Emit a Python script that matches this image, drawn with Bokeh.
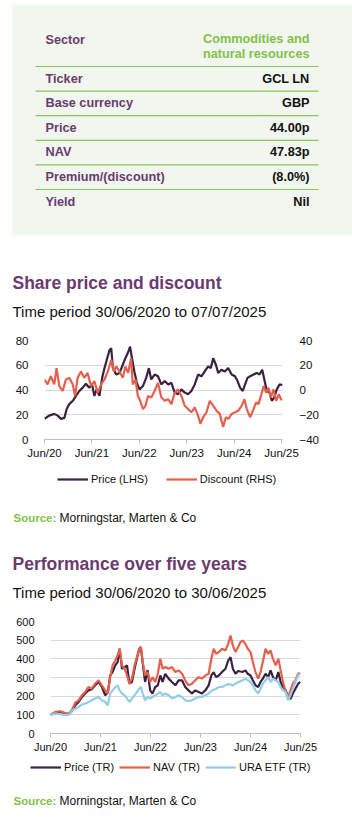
import pandas as pd
from bokeh.plotting import figure
from bokeh.models import (Range1d, LinearAxis, FixedTicker, DatetimeTickFormatter,
                          Legend, LegendItem)
from bokeh.core.properties import value
from bokeh.embed import file_html
from bokeh.resources import INLINE

# ---------------- data ----------------
table_labels = ["Sector", "Ticker", "Base currency", "Price", "NAV", "Premium/(discount)", "Yield"]
sector_value = ["Commodities and", "natural resources"]
table_values = ["GCL LN", "GBP", "44.00p", "47.83p", "(8.0%)", "Nil"]

c1_title = "Share price and discount"
c1_period = "Time period 30/06/2020 to 07/07/2025"
c2_title = "Performance over five years"
c2_period = "Time period 30/06/2020 to 30/06/2025"
source_label = "Source:"
source_text = "Morningstar, Marten & Co"
c1_series = ["Price (LHS)", "Discount (RHS)"]
c2_series = ["Price (TR)", "NAV (TR)", "URA ETF (TR)"]

year_ticks = ["2020-06-30", "2021-06-30", "2022-06-30", "2023-06-30", "2024-06-30", "2025-06-30"]
c1_left_ticks = [0, 20, 40, 60, 80]
c1_right_ticks = [-40, -20, 0, 20, 40]
c2_ticks = [0, 100, 200, 300, 400, 500, 600]

price_dates = ["2020-06-30","2020-08-05","2020-09-13","2020-10-09","2020-11-04","2020-11-30","2020-12-18","2021-01-07","2021-02-03","2021-02-28",
               "2021-03-25","2021-04-20","2021-05-15","2021-06-10","2021-07-01","2021-07-19","2021-08-06","2021-08-27","2021-09-17","2021-10-05",
               "2021-10-26","2021-11-13","2021-11-26","2021-12-09","2022-01-03","2022-01-29","2022-02-23","2022-03-15","2022-04-02","2022-04-20",
               "2022-05-05","2022-05-23","2022-06-11","2022-07-02","2022-07-28","2022-08-22","2022-09-12","2022-09-30","2022-10-26","2022-11-21",
               "2022-12-17","2023-01-12","2023-02-07","2023-03-04","2023-03-30","2023-04-24","2023-05-20","2023-06-15","2023-07-11","2023-08-05",
               "2023-08-31","2023-09-26","2023-10-22","2023-11-16","2023-12-12","2024-01-02","2024-01-20","2024-02-10","2024-02-28","2024-03-24",
               "2024-04-19","2024-05-15","2024-06-10","2024-07-06","2024-07-26","2024-08-14","2024-09-04","2024-09-22","2024-10-10","2024-10-31",
               "2024-11-26","2024-12-21","2025-01-11","2025-02-01","2025-02-17","2025-03-08","2025-03-29","2025-04-16","2025-05-04","2025-05-24",
               "2025-06-14","2025-07-07"]
share_price = [16.7,19.3,20.7,19.3,16.7,17.5,24.6,28.6,31.3,35.2,
               39.2,41.9,45.0,41.9,44.5,35.2,40.5,35.2,49.8,57.7,
               65.7,72.3,73.6,57.7,52.5,53.8,60.4,65.7,69.7,75.0,
               65.7,55.0,45.8,40.5,43.2,49.8,57.7,48.5,52.5,51.1,
               44.5,47.2,44.5,45.8,37.9,36.6,40.5,37.9,36.6,39.2,
               44.5,52.5,51.1,55.0,59.0,57.7,65.7,60.4,53.8,56.4,
               55.0,57.7,52.5,51.1,47.2,41.9,39.2,44.5,49.8,51.1,
               52.5,53.8,52.5,56.4,48.5,39.2,37.9,31.3,33.9,40.5,
               44.5,44.0]

disc_dates = ["2020-06-30","2020-07-23","2020-08-18","2020-09-13","2020-10-01","2020-10-22","2020-11-17","2020-12-12","2021-01-07","2021-02-03",
              "2021-02-20","2021-03-12","2021-04-07","2021-05-02","2021-05-28","2021-06-23","2021-07-19","2021-08-14","2021-09-09","2021-10-05",
              "2021-10-31","2021-11-26","2021-12-16","2022-01-03","2022-01-29","2022-02-23","2022-03-15","2022-04-05","2022-04-28","2022-05-11",
              "2022-06-01","2022-06-19","2022-07-07","2022-07-28","2022-08-17","2022-09-05","2022-09-30","2022-10-26","2022-11-21","2022-12-17",
              "2023-01-12","2023-02-07","2023-03-04","2023-03-30","2023-04-24","2023-05-20","2023-06-15","2023-07-11","2023-08-05","2023-08-31",
              "2023-09-26","2023-10-14","2023-11-04","2023-11-30","2023-12-25","2024-01-20","2024-02-15","2024-03-11","2024-04-06","2024-04-27",
              "2024-05-17","2024-06-10","2024-07-06","2024-08-01","2024-08-27","2024-09-17","2024-10-05","2024-10-31","2024-11-26","2024-12-16",
              "2025-01-03","2025-01-22","2025-02-12","2025-03-03","2025-03-21","2025-04-08","2025-04-29","2025-05-19","2025-06-09","2025-06-25",
              "2025-07-07"]
discount = [8.5,4.5,11.1,4.5,17.7,3.2,-0.8,8.5,9.8,4.5,
            -4.8,9.8,15.0,9.8,13.8,3.2,7.2,-2.1,4.5,8.5,
            15.0,24.4,15.0,19.0,15.0,9.8,19.0,13.8,25.7,4.5,
            8.5,-4.8,-8.7,-15.4,-12.7,-4.8,-6.1,-0.8,5.8,-6.1,
            -8.7,-7.4,-11.4,-2.1,0.5,-4.8,-12.7,-15.4,-18.0,-14.0,
            -20.7,-27.3,-22.0,-18.0,-8.7,-12.7,-16.7,-19.3,-29.9,-22.0,
            -23.3,-19.3,-18.0,-16.7,-12.7,-7.4,-15.4,-22.0,-15.4,-10.1,
            -11.4,-4.8,3.2,-2.1,1.9,-6.1,0.5,-8.7,-3.4,-7.4,
            -8.0]

perf_dates = ["2020-06-30","2020-08-03","2020-09-09","2020-10-16","2020-11-14","2020-12-08","2020-12-28","2021-01-21","2021-02-15","2021-03-10",
              "2021-04-03","2021-04-28","2021-05-22","2021-06-16","2021-07-10","2021-08-04","2021-08-23","2021-09-09","2021-09-26","2021-10-16",
              "2021-11-02","2021-11-17","2021-12-04","2021-12-23","2022-01-10","2022-01-27","2022-02-15","2022-03-06","2022-03-23","2022-04-09",
              "2022-04-21","2022-05-05","2022-05-22","2022-06-09","2022-06-28","2022-07-15","2022-08-04","2022-08-23","2022-09-10","2022-09-27",
              "2022-10-16","2022-11-10","2022-12-04","2022-12-29","2023-01-22","2023-02-16","2023-03-11","2023-04-04","2023-04-29","2023-05-23",
              "2023-06-17","2023-07-11","2023-08-05","2023-08-29","2023-09-18","2023-10-05","2023-10-22","2023-11-11","2023-12-05","2023-12-30",
              "2024-01-19","2024-02-05","2024-02-22","2024-03-12","2024-03-31","2024-04-17","2024-05-04","2024-05-24","2024-06-10","2024-06-30",
              "2024-07-17","2024-08-05","2024-08-25","2024-09-11","2024-09-28","2024-10-18","2024-11-06","2024-11-23","2024-12-11","2024-12-31",
              "2025-01-19","2025-02-05","2025-02-22","2025-03-14","2025-04-01","2025-04-18","2025-05-05","2025-05-24","2025-06-13","2025-06-30"]
price_tr = [100,110,116,107,105,125,151,169,196,214,
            231,237,258,276,249,205,222,311,329,365,
            383,454,347,356,365,267,276,347,400,454,
            463,374,276,340,231,214,249,258,311,276,
            320,294,276,258,285,285,249,231,214,231,
            222,214,231,258,311,329,302,311,329,347,
            391,409,347,320,335,332,330,338,320,311,
            285,258,249,276,294,320,302,338,302,285,
            329,276,249,231,196,185,214,240,267,276]
nav_tr = [101,116,119,110,107,133,165,178,205,222,
          249,240,267,285,258,231,214,302,365,391,
          418,454,365,347,311,267,294,365,409,454,
          463,383,311,330,276,302,276,320,400,347,
          356,347,356,329,338,320,285,258,267,285,
          302,294,311,320,400,454,427,436,454,445,
          480,525,471,436,463,489,498,480,454,436,
          383,329,294,329,383,454,427,445,400,365,
          400,338,276,222,196,231,267,285,320,326]
ura_tr = [100,107,103,98,101,125,133,142,155,160,
          169,178,187,196,178,169,151,214,231,249,
          258,231,214,205,187,169,187,205,222,240,
          249,214,178,196,187,196,205,214,222,205,
          214,205,187,196,205,196,178,173,178,187,
          196,196,205,214,228,235,240,249,249,258,
          265,262,258,267,274,280,285,294,285,276,
          258,231,214,240,267,285,302,276,294,285,
          276,249,231,222,178,205,240,276,311,324]

# ---------------- style ----------------
FONT = "Liberation Sans"
W = 352
PURPLE = "#6B3A6F"
GREEN = "#86BF4A"
BG = "#F1F6EE"
RULE = "#8CC45A"
DARK = "#3A2142"
RED = "#E5604C"
BLUE = "#93CCEA"
GRID = "#D9D9D9"
AXIS = "#BFBFBF"
INK = "#111111"
LW = 2.2


def text_fig(h):
    f = figure(width=W, height=h, x_range=Range1d(0, W), y_range=Range1d(h, 0),
               toolbar_location=None, output_backend="svg", min_border=0,
               x_axis_location=None, y_axis_location=None)
    f.grid.visible = False
    f.outline_line_color = None
    f.background_fill_color = "white"
    f.border_fill_color = "white"
    return f


def txt(f, x, y, t, size, color, bold=False, align="left"):
    f.text(x=x, y=y, text=t, text_font=value(FONT), text_font_size=size,
           text_font_style="bold" if bold else "normal", text_color=color,
           text_align=align, text_baseline="middle")


def legend_fig(h, labels, series, colors, vx, vy, spacing):
    # legend strip: each swatch is tied to a line renderer of the real series
    # (its data lies outside this strip's ranges, so only the legend shows)
    f = figure(width=W, height=h, x_axis_type="datetime",
               x_range=Range1d(pd.Timestamp("1990-01-01"), pd.Timestamp("1990-12-31")),
               y_range=Range1d(-1000, -999), toolbar_location=None, output_backend="svg",
               min_border=0, x_axis_location=None, y_axis_location=None)
    f.grid.visible = False
    f.outline_line_color = None
    items = []
    for lab, (xs, ys), col in zip(labels, series, colors):
        r = f.line(pd.to_datetime(xs), ys, line_color=col, line_width=LW)
        items.append(LegendItem(label=lab, renderers=[r]))
    leg = Legend(items=items, orientation="horizontal", location=(vx, vy),
                 glyph_width=31, glyph_height=12, label_height=12, label_standoff=3,
                 spacing=spacing, padding=0, margin=0,
                 border_line_color=None, background_fill_alpha=0,
                 label_text_font=FONT, label_text_font_size="11px", label_text_color=INK)
    f.add_layout(leg)
    return f


# ---------------- table ----------------
f0 = text_fig(245)
f0.quad(left=[12], right=[W], top=[4], bottom=[235], fill_color=BG, line_color=None)
row_y = [39] + [78 + 24.6 * i for i in range(len(table_values))]
f0.segment(x0=[35] * len(table_values), x1=[318] * len(table_values),
           y0=[y - 12 for y in row_y[1:]], y1=[y - 12 for y in row_y[1:]],
           line_color=RULE, line_width=1.2)
txt(f0, [45] * len(table_labels), row_y, table_labels, "12.7px", PURPLE, bold=True)
txt(f0, [309, 309], [38, 53], sector_value, "12.7px", GREEN, bold=True, align="right")
txt(f0, [309] * len(table_values), row_y[1:], table_values, "12.7px", INK, bold=True, align="right")

# ---------------- heading 1 ----------------
f1 = text_fig(80)
txt(f1, [12], [37], [c1_title], "17.5px", PURPLE, bold=True)
txt(f1, [12], [66], [c1_period], "15px", INK)

tick_ms = [pd.Timestamp(d).value // 10**6 for d in year_ticks]
fmt = DatetimeTickFormatter(days="%b/%y", months="%b/%y", years="%b/%y")


def style_axis(ax, size):
    ax.major_label_text_font = FONT
    ax.major_label_text_font_size = size
    ax.major_label_text_color = INK
    ax.minor_tick_line_color = None


def style_x(p, size):
    p.xaxis.ticker = FixedTicker(ticks=tick_ms)
    p.xaxis.formatter = fmt
    p.xaxis.axis_line_color = AXIS
    p.xaxis.major_tick_line_color = AXIS
    p.xaxis.major_tick_in = 0
    p.xaxis.major_tick_out = 4
    p.xaxis.major_label_standoff = 3
    style_axis(p.xaxis[0], size)


# ---------------- chart 1 ----------------
p1 = figure(width=W, height=140, x_axis_type="datetime",
            x_range=Range1d(pd.Timestamp("2020-06-30"), pd.Timestamp("2025-07-07")),
            y_range=Range1d(0, 80), toolbar_location=None, output_backend="svg",
            min_border_left=44, min_border_right=70, min_border_top=15, min_border_bottom=26)
p1.outline_line_color = None
p1.extra_y_ranges = {"disc": Range1d(-40, 40)}
p1.xgrid.visible = False
p1.ygrid.ticker = FixedTicker(ticks=c1_left_ticks)
p1.ygrid.grid_line_color = GRID
p1.yaxis.ticker = FixedTicker(ticks=c1_left_ticks)
p1.yaxis.axis_line_color = None
p1.yaxis.major_tick_line_color = None
p1.yaxis.major_label_standoff = 10
style_axis(p1.yaxis[0], "11.5px")
ax_r = LinearAxis(y_range_name="disc", ticker=FixedTicker(ticks=c1_right_ticks))
ax_r.axis_line_color = None
ax_r.major_tick_line_color = None
ax_r.major_label_standoff = 11
style_axis(ax_r, "11.5px")
p1.add_layout(ax_r, "right")
style_x(p1, "11.5px")

p1.line(pd.to_datetime(price_dates), share_price, line_color=DARK, line_width=LW)
p1.line(pd.to_datetime(disc_dates), discount, y_range_name="disc", line_color=RED, line_width=LW)

l1 = legend_fig(35, c1_series, [(price_dates, share_price), (disc_dates, discount)],
                [DARK, RED], 57, 15, 18)

# ---------------- source 1 + heading 2 ----------------
f2 = text_fig(110)
txt(f2, [13], [17], [source_label], "11.5px", GREEN, bold=True)
txt(f2, [59], [17], [source_text], "12px", INK)
txt(f2, [12], [63], [c2_title], "17.5px", PURPLE, bold=True)
txt(f2, [12], [92], [c2_period], "15px", INK)

# ---------------- chart 2 ----------------
p2 = figure(width=W, height=150, x_axis_type="datetime",
            x_range=Range1d(pd.Timestamp("2020-06-30"), pd.Timestamp("2025-06-30")),
            y_range=Range1d(0, 600), toolbar_location=None, output_backend="svg",
            min_border_left=50, min_border_right=52, min_border_top=11, min_border_bottom=27)
p2.outline_line_color = None
p2.xgrid.visible = False
p2.ygrid.ticker = FixedTicker(ticks=c2_ticks)
p2.ygrid.grid_line_color = GRID
p2.yaxis.ticker = FixedTicker(ticks=c2_ticks)
p2.yaxis.axis_line_color = None
p2.yaxis.major_tick_line_color = None
p2.yaxis.major_label_standoff = 10
style_axis(p2.yaxis[0], "11px")
style_x(p2, "11px")

pd2 = pd.to_datetime(perf_dates)
p2.line(pd2, price_tr, line_color=DARK, line_width=LW)
p2.line(pd2, nav_tr, line_color=RED, line_width=LW)
p2.line(pd2, ura_tr, line_color=BLUE, line_width=LW)

l2 = legend_fig(30, c2_series, [(perf_dates, price_tr), (perf_dates, nav_tr), (perf_dates, ura_tr)],
                [DARK, RED, BLUE], 30, 17, 5)

# ---------------- source 2 ----------------
f3 = text_fig(28)
txt(f3, [13], [10], [source_label], "11.5px", GREEN, bold=True)
txt(f3, [59], [10], [source_text], "12px", INK)

roots = [f0, f1, p1, l1, f2, p2, l2, f3]
open("out.html", "w").write(file_html(roots, INLINE))
